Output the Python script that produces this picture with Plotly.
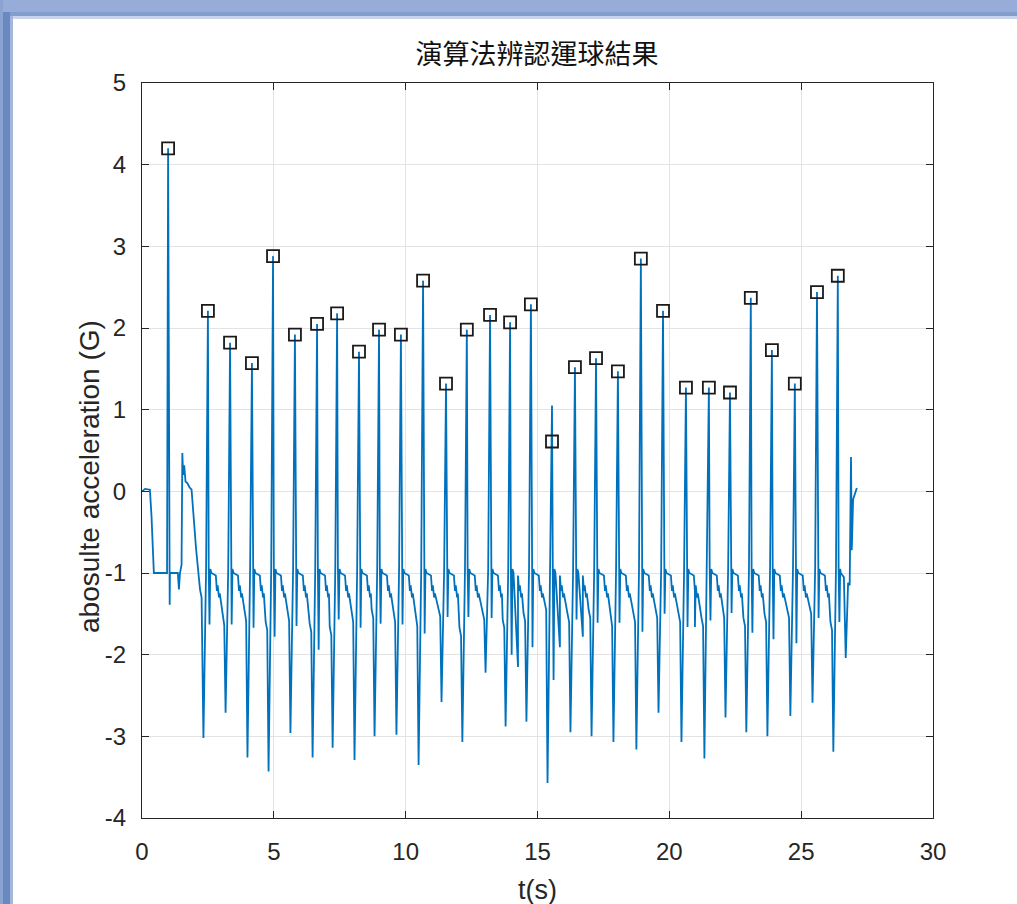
import plotly.graph_objects as go

# ---------------- data ----------------
# detected bounce peaks (square markers)
peak_t = [0.99, 2.50, 3.34, 4.17, 4.97, 5.80, 6.64, 7.40, 8.23, 8.99, 9.82,
          10.66, 11.53, 12.32, 13.20, 13.96, 14.75, 15.55, 16.42, 17.22, 18.05,
          18.92, 19.76, 20.63, 21.50, 22.30, 23.09, 23.89, 24.76, 25.60, 26.39]
peak_y = [4.20, 2.21, 1.82, 1.57, 2.88, 1.92, 2.05, 2.18, 1.71, 1.98, 1.92,
          2.58, 1.32, 1.98, 2.16, 2.07, 2.29, 0.61, 1.52, 1.63, 1.47,
          2.85, 2.21, 1.27, 1.27, 1.21, 2.37, 1.73, 1.32, 2.44, 2.64]
# top of the signal spike at each peak
signal_peak_y = [4.20, 2.21, 1.82, 1.57, 2.88, 1.92, 2.05, 2.18, 1.71, 1.98, 1.92,
                 2.58, 1.32, 1.98, 2.16, 2.07, 2.29, 1.05, 1.52, 1.63, 1.47,
                 2.85, 2.21, 1.27, 1.27, 1.21, 2.37, 1.73, 1.32, 2.44, 2.64]
# deep dip just before peaks 2..31
dip_y = [-3.02, -2.71, -3.26, -3.43, -2.96, -3.26, -3.14, -3.29, -3.00, -2.98,
         -3.35, -2.58, -3.07, -2.22, -2.88, -2.82, -3.57, -2.95, -3.00, -3.07,
         -3.16, -2.71, -3.07, -3.27, -2.77, -2.95, -3.00, -2.75, -2.59, -3.19]
# short dip right after peaks 1..31
post_y = [-1.39, -1.63, -1.63, -1.67, -1.78, -1.65, -1.94, -1.57, -1.67, -1.62,
          -1.63, -1.74, -1.54, -1.54, -1.55, -2.00, -1.91, -2.31, -1.57, -1.61,
          -1.61, -1.72, -1.50, -1.66, -1.58, -1.49, -1.73, -1.81, -1.86, -1.55, -1.60]
# level reached before the deep dip preceding peaks 2..31
shoulder_y = [-1.55, -1.54, -1.49, -1.60, -1.49, -1.62, -1.66, -1.50, -1.45, -1.50,
              -1.55, -1.43, -1.67, -1.47, -1.57, -1.49, -1.35, -1.50, -1.45, -1.55,
              -1.50, -1.45, -1.50, -1.55, -1.45, -1.55, -1.50, -1.45, -1.40, -1.60]
# extra secondary dips
extra_t = [14.26, 15.85, 16.72, 20.97]
extra_y = [-2.15, -1.91, -1.78, -1.66]
# start of the recording (before first bounce) and end
start_t = [0.00, 0.12, 0.30, 0.36, 0.45, 0.95]
start_y = [0.00, 0.03, 0.02, -0.30, -1.00, -1.00]
lead_t = [1.06, 1.36, 1.40, 1.44, 1.50, 1.53, 1.56, 1.60, 1.65, 1.72, 1.80, 1.88, 2.05, 2.20, 2.26]
lead_y = [-1.00, -1.00, -1.20, -1.00, -0.90, 0.47, 0.20, 0.32, 0.12, 0.10, 0.05, 0.02, -0.70, -1.20, -1.30]
end_t = [26.50, 26.62, 26.69, 26.78, 26.84, 26.89, 26.92, 26.97, 27.11]
end_y = [-1.00, -1.05, -2.04, -1.12, -1.15, 0.42, -0.72, -0.10, 0.04]

x_ticks = [0, 5, 10, 15, 20, 25, 30]
y_ticks = [-4, -3, -2, -1, 0, 1, 2, 3, 4, 5]

# ---------------- build the signal polyline ----------------
pts = list(zip(start_t, start_y))
n = len(peak_t)
for i in range(n):
    tp = peak_t[i]
    pts.append((tp, signal_peak_y[i]))
    pts.append((tp + 0.03, -0.93))
    pts.append((tp + 0.06, post_y[i]))
    if i == 0:
        pts += list(zip(lead_t, lead_y))
    elif i == n - 1:
        pts.append((tp + 0.09, -0.95))
        pts += list(zip(end_t, end_y))
        break
    else:
        pts += [(tp + 0.09, -0.95), (tp + 0.13, -1.00), (tp + 0.30, -1.03),
                (tp + 0.34, -1.22), (tp + 0.37, -1.15), (tp + 0.42, -1.30),
                (tp + 0.45, -1.25)]
    tn = peak_t[i + 1]
    if i > 0:
        pts.append((tn - 0.28, shoulder_y[i]))
        pts.append((tn - 0.22, shoulder_y[i] - 0.1))
    pts.append((tn - 0.17, dip_y[i]))
    pts.append((tn - 0.07, -0.95))
pts += list(zip(extra_t, extra_y))
pts.sort(key=lambda p: p[0])
sig_t = [p[0] for p in pts]
sig_y = [p[1] for p in pts]

# ---------------- figure ----------------
W, H = 1017, 904
L, R, T, B = 142, 933, 83, 818
pw, ph = R - L, B - T

def px(x):
    return (x - L) / pw

def py(y):
    return (B - y) / ph

fig = go.Figure()
fig.add_trace(go.Scatter(x=sig_t, y=sig_y, mode="lines",
                         line=dict(color="#0072BD", width=1.8),
                         hoverinfo="skip", showlegend=False))
fig.add_trace(go.Scatter(x=peak_t, y=peak_y, mode="markers",
                         marker=dict(symbol="square-open", size=12,
                                     color="#1a1a1a", line=dict(width=1.8, color="#1a1a1a")),
                         showlegend=False))

tick_font = dict(family="Liberation Sans Narrow, Arial Narrow, Liberation Sans, sans-serif",
                 size=24, color="#262626")
axis_common = dict(showline=True, linecolor="#262626", linewidth=1, mirror="ticks",
                   ticks="inside", ticklen=7, tickcolor="#262626", tickwidth=1,
                   showgrid=True, gridcolor="#e3e3e3", gridwidth=1, zeroline=False,
                   tickfont=tick_font)

band = lambda x0, x1, y0, y1, c: dict(type="rect", xref="paper", yref="paper",
                                      x0=px(x0), x1=px(x1), y0=py(y1), y1=py(y0),
                                      fillcolor=c, line=dict(width=0), layer="below")

fig.update_layout(
    width=W, height=H,
    margin=dict(l=L, r=W - R, t=T, b=H - B, pad=0),
    paper_bgcolor="white", plot_bgcolor="white",
    xaxis=dict(range=[0, 30], tickvals=x_ticks, ticktext=[str(v) for v in x_ticks],
               ticklabelstandoff=12, **axis_common),
    yaxis=dict(range=[-4, 5], tickvals=y_ticks, ticktext=[str(v) for v in y_ticks],
               ticklabelstandoff=10, **axis_common),
    title=dict(text="演算法辨認運球結果", x=537 / W, xanchor="center",
               y=1 - 55 / H, yanchor="middle",
               font=dict(family="Noto Sans CJK TC, Noto Sans CJK SC, sans-serif",
                         size=27, color="#111111")),
    annotations=[
        dict(text="abosulte acceleration (G)", xref="paper", yref="paper",
             x=px(89), y=py(477), xanchor="center", yanchor="middle",
             textangle=-90, showarrow=False,
             font=dict(family="Liberation Sans, Arial, sans-serif", size=28, color="#262626")),
        dict(text="t(s)", xref="paper", yref="paper",
             x=px(537), y=py(890), xanchor="center", yanchor="middle",
             showarrow=False,
             font=dict(family="Liberation Sans Narrow, Liberation Sans, sans-serif",
                       size=27, color="#262626")),
    ],
    shapes=[
        # window chrome: top bar and left border
        band(0, W, 0, 12, "#97acd8"),
        band(0, W, 12, 16, "#819ecd"),
        band(0, W, 16, 19, "#c8d4eb"),
        band(0, 3, 0, H, "#8aa3d1"),
        band(3, 10, 12, H, "#6a89c0"),
        band(10, 13, 16, H, "#a3b7dc"),
    ],
)

fig.write_html("out.html", config=dict(displayModeBar=False),
               post_script="document.body.style.margin='0';document.body.style.overflow='hidden';")
